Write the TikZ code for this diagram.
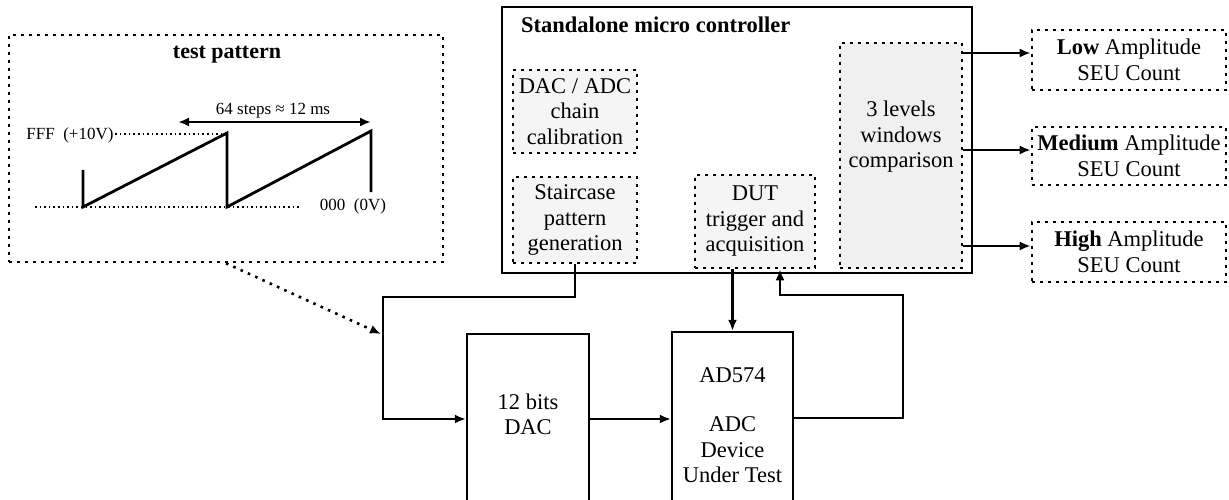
\documentclass[tikz,border=0pt]{standalone}
\usepackage{fontspec}
\setmainfont{Liberation Serif}
\usetikzlibrary{arrows.meta,calc}
\begin{document}
\begin{tikzpicture}[x=1pt,y=-1pt,
  txt/.style={font=\fontsize{22.5}{25.5}\selectfont, align=center, inner sep=0pt},
  small/.style={font=\fontsize{17}{20}\selectfont, inner sep=0pt},
  dotbox/.style={draw, line width=2.6pt, dash pattern=on 2.6pt off 5.4pt},
  solidbox/.style={draw, line width=2.3pt},
  arr/.style={line width=2.3pt, -{Latex[length=11pt,width=9pt]}},
  fineDots/.style={line width=1.6pt, dash pattern=on 1.6pt off 3pt},
  wave/.style={line width=2.8pt}]
\clip (0,0) rectangle (1229,500);

% ---------- test pattern ----------
\node[dotbox, minimum width=434pt, minimum height=227pt] (tp) at (226,148.5) {};
\node[txt, font=\fontsize{22}{25}\selectfont\bfseries] (tptitle) at (227,55) {test pattern};
\node[small] (steps) at (273,111) {64 steps ≈ 12 ms};
\draw[line width=2.4pt, {Latex[length=11pt,width=9pt]}-{Latex[length=11pt,width=9pt]}] (178,122) -- (371,122);
\node[small] (fff) at (70,135) {FFF\ \ (+10V)};
\draw[fineDots] (115,134) -- (226,134);
\draw[fineDots] (35,207) -- (300,207);
\node[small] (zero) at (353,206) {000\ \ (0V)};
\draw[wave] (83,170) -- (83,207) -- (227,133) -- (227,207) -- (371,131) -- (371,192);

% ---------- controller ----------
\node[solidbox, minimum width=470pt, minimum height=266pt] (ctrl) at (737,140) {};
\node[txt, anchor=west, font=\fontsize{22.5}{25.5}\selectfont\bfseries] (ctitle) at (521,25) {Standalone micro controller};
\node[dotbox, fill=black!4, minimum width=124pt, minimum height=83pt, txt] (cal) at (575,111.5) {DAC / ADC\\chain\\calibration};
\node[dotbox, fill=black!4, minimum width=124pt, minimum height=86pt, txt] (stair) at (575,220) {Staircase\\pattern\\generation};
\node[dotbox, fill=black!4, minimum width=120pt, minimum height=93pt, txt] (dut) at (755,221.5) {DUT\\trigger and\\acquisition};
\node[dotbox, fill=black!6, minimum width=122pt, minimum height=225pt] (lvl) at (901,155.5) {};
\node[txt] (lvltxt) at (901,137) {3 levels\\windows\\comparison};

% ---------- SEU counters ----------
\node[dotbox, minimum width=194pt, minimum height=60pt, txt] (low) at (1129,60) {\textbf{Low} Amplitude\\SEU Count};
\node[dotbox, minimum width=194pt, minimum height=58pt, txt] (med) at (1129,156) {\textbf{Medium} Amplitude\\SEU Count};
\node[dotbox, minimum width=194pt, minimum height=60pt, txt] (high) at (1129,252) {\textbf{High} Amplitude\\SEU Count};
\coordinate (a1) at ($(low.west)+(0,-7)$);
\coordinate (a2) at ($(med.west)+(0,-6)$);
\coordinate (a3) at ($(high.west)+(0,-6)$);
\draw[arr] (lvl.east |- a1) -- (a1);
\draw[arr] (lvl.east |- a2) -- (a2);
\draw[arr] (lvl.east |- a3) -- (a3);

% ---------- DAC / ADC ----------
\node[solidbox, minimum width=122pt, minimum height=170pt] (dac) at (528,419) {};
\node[txt] (dactxt) at (528,414.5) {12 bits\\DAC};
\node[solidbox, minimum width=121pt, minimum height=172pt] (adc) at (732.5,418) {};
\node[txt] (adctxt) at (732.5,375) {AD574};
\node[txt] (adctxt2) at (732.5,450) {ADC\\Device\\Under Test};

% ---------- connectors ----------
\coordinate (bend) at (383,297);
\draw[arr] (stair.south) |- (bend) |- (dac.west);
\draw[arr] (dac.east) -- (dac.east -| adc.west);
\draw[arr] (dut.south -| adc.north) -- (adc.north);
\coordinate (fb) at (903,295);
\draw[arr] (adc.east) -| (fb) -| ($(dut.south)+(25,0)$);
\coordinate (pin) at (381,334);
\draw[line width=2.6pt, dash pattern=on 2.6pt off 5.4pt, -{Latex[length=11pt,width=9pt]}] (tp.south) -- (pin);
\end{tikzpicture}
\end{document}
